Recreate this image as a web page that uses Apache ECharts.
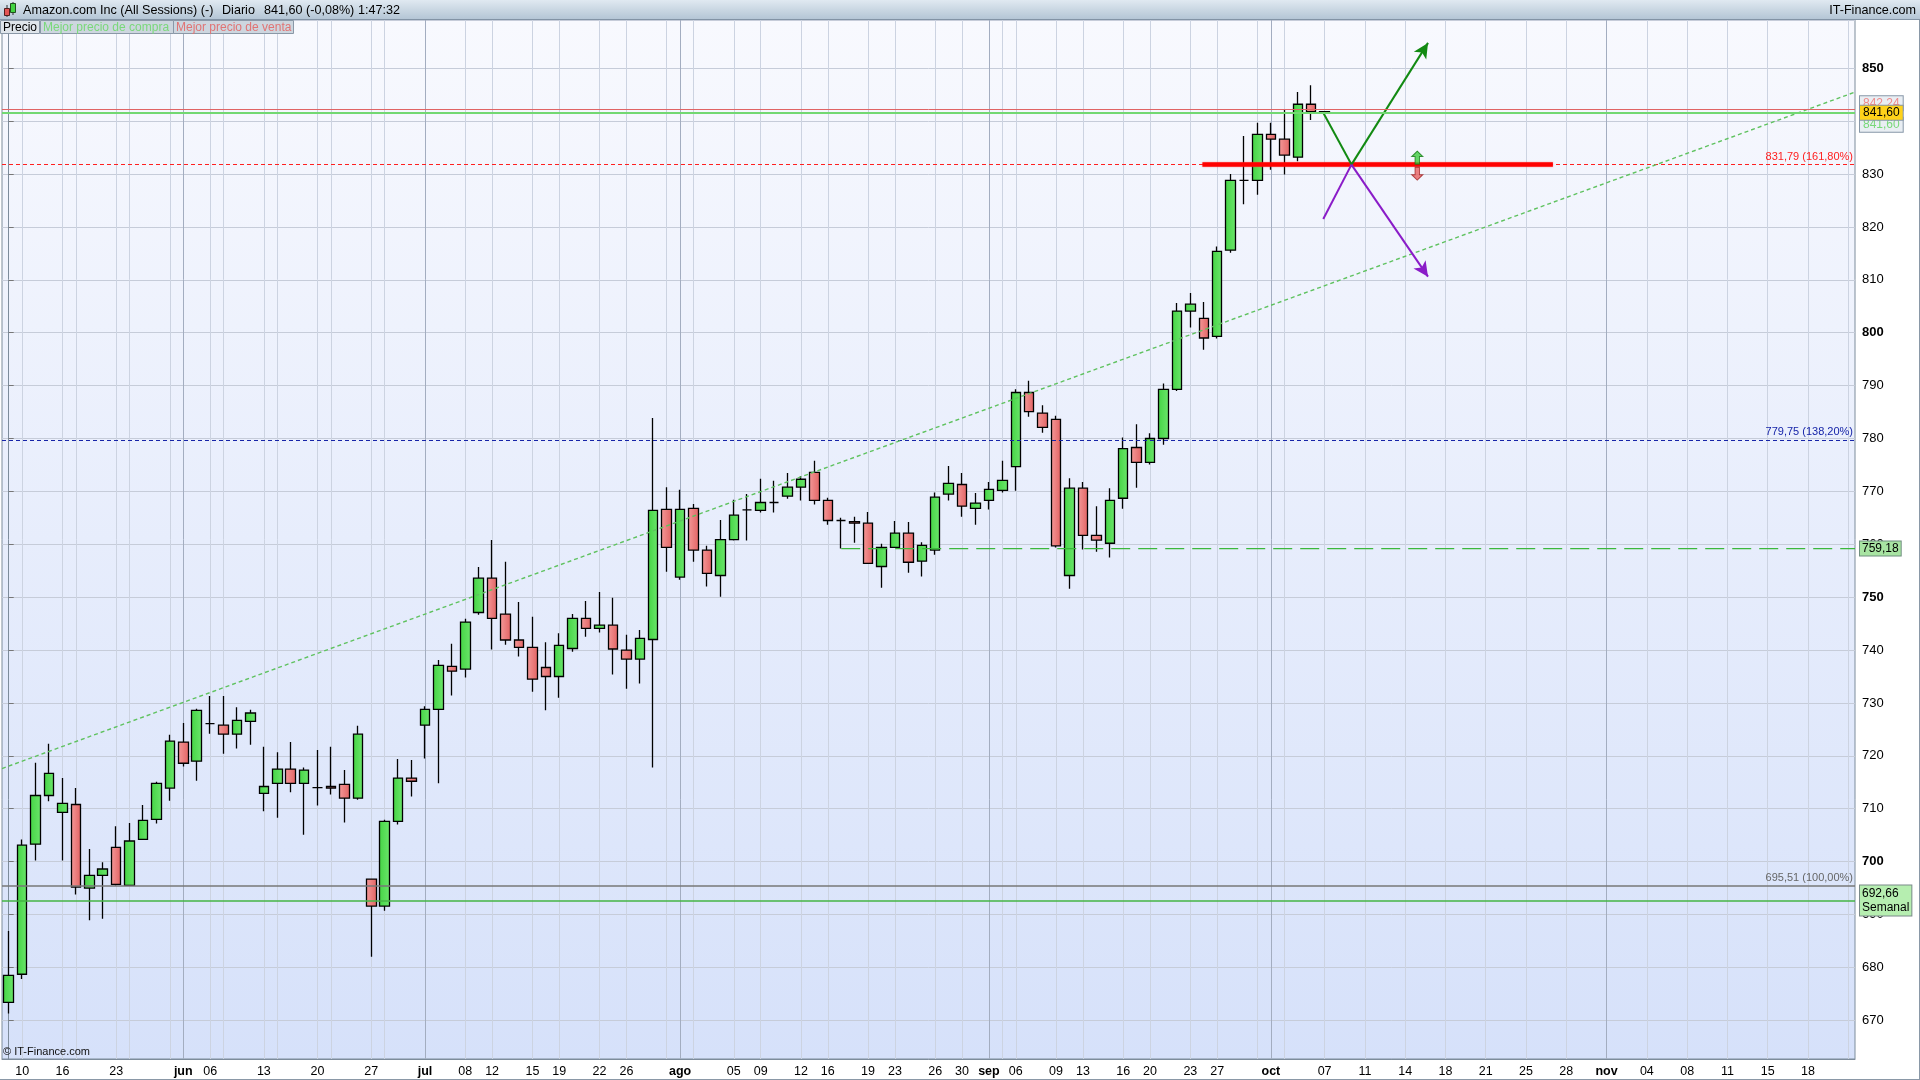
<!DOCTYPE html>
<html><head><meta charset="utf-8">
<script src="https://cdn.jsdelivr.net/npm/echarts@6/dist/echarts.min.js"></script>
<style>html,body{margin:0;padding:0;background:#fff}#c{width:1920px;height:1080px}</style>
</head><body><div id="c"></div>
<script>
// ---- categories (trading days shown on the chart, then future slots) ----
const dates = ['05-09','05-10','05-11','05-12','05-16','05-17','05-18','05-19','05-23','05-24',
 '05-25','05-26','05-31','06-01','06-02','06-06','06-07','06-08','06-09','06-13',
 '06-14','06-15','06-16','06-20','06-21','06-22','06-23','06-27','06-28','06-29',
 '06-30','07-05','07-06','07-07','07-08','07-11','07-12','07-13','07-14','07-15',
 '07-18','07-19','07-20','07-21','07-22','07-25','07-26','07-27','07-28','07-29',
 '08-01','08-02','08-03','08-04','08-05','08-08','08-09','08-10','08-11','08-12',
 '08-15','08-16','08-17','08-18','08-19','08-22','08-23','08-24','08-25','08-26',
 '08-29','08-30','08-31','09-01','09-02','09-06','09-07','09-08','09-09','09-12',
 '09-13','09-14','09-15','09-16','09-19','09-20','09-21','09-22','09-23','09-26',
 '09-27','09-28','09-29','09-30','10-03','10-04','10-05','10-06','10-07',
 '10-08','10-10','10-11','10-12','10-13','10-14','10-15','10-17','10-18','10-19','10-20','10-21',
 '10-22','10-24','10-25','10-26','10-27','10-28','10-29','10-31','11-01','11-02','11-03','11-04',
 '11-05','11-07','11-08','11-09','11-10','11-11','11-12','11-14','11-15','11-16','11-17','11-18',
 '11-19','11-21','11-22'];

const opens = [673.4,678.7,703.3,712.5,709.3,710.8,695.0,697.4,702.7,695.5,
 704.2,708.0,713.9,722.6,719.0,726.1,725.8,724.1,726.5,712.9,
 714.8,717.5,714.8,714.0,714.2,714.6,712.0,696.7,691.6,707.6,
 715.8,725.8,728.8,736.9,736.4,747.1,753.6,746.8,741.9,740.5,
 736.7,735.0,740.3,746.0,744.1,744.7,740.0,738.3,742.0,766.6,
 753.8,766.8,758.9,754.1,760.9,766.5,766.4,767.9,769.1,770.8,
 773.6,768.3,764.5,764.3,764.0,755.8,759.4,762.1,756.8,758.9,
 769.5,771.3,766.8,768.3,770.2,774.7,788.7,784.8,783.6,754.1,
 770.6,761.7,760.2,768.7,778.3,775.5,780.0,789.3,804.1,802.7,
 799.3,815.6,828.8,828.8,837.5,836.6,833.2,843.2,841.8];
const closes = [678.5,703.1,712.5,716.7,711.0,695.2,697.4,698.6,695.7,703.9,
 707.8,714.8,722.8,718.6,728.6,726.1,724.1,726.7,728.1,714.2,
 717.5,714.8,717.3,714.0,713.9,712.0,724.1,691.6,707.6,715.8,
 715.2,728.8,737.1,736.0,745.3,753.6,746.0,741.9,740.5,734.5,
 735.0,740.9,746.0,744.1,744.7,740.2,738.3,742.2,766.4,759.4,
 766.6,758.9,754.5,760.9,765.5,766.5,767.9,767.9,770.8,772.3,
 768.3,764.5,764.5,764.0,756.4,759.4,762.1,756.6,759.8,768.9,
 771.5,767.2,767.8,770.4,772.1,788.7,785.1,782.1,759.7,770.6,
 761.7,760.8,768.3,778.1,775.5,780.0,789.3,804.1,805.4,799.0,
 815.4,828.8,828.8,837.5,836.6,833.6,843.2,841.8,841.6];
const lows = [671.3,677.8,700.2,711.4,700.2,693.8,688.9,689.2,695.5,695.5,
 704.2,707.2,711.5,718.0,715.3,724.2,720.4,721.4,722.1,709.5,
 708.3,713.1,705.1,710.6,712.7,707.4,711.7,682.0,690.7,707.0,
 712.3,719.5,714.8,731.4,734.8,746.7,740.1,741.0,738.8,732.1,
 728.6,731.0,739.7,742.5,743.3,735.4,732.7,733.7,717.8,754.8,
 753.3,756.7,752.0,750.1,760.7,760.7,766.0,766.0,768.6,768.3,
 767.5,763.7,759.2,760.3,756.4,751.8,759.4,754.6,753.9,758.0,
 768.3,765.2,763.7,766.6,769.8,770.1,784.1,781.1,759.4,751.6,
 759.0,758.6,757.5,766.7,770.7,775.1,778.8,789.0,801.0,796.8,
 798.9,815.1,824.3,826.1,830.8,829.9,832.4,840.2,841.5];
const highs = [686.9,704.2,718.7,722.3,715.8,713.9,702.4,699.9,706.7,707.3,
 710.7,715.1,724.0,726.2,728.9,731.3,731.3,729.2,728.7,721.7,
 720.7,722.6,717.8,721.1,721.7,717.3,725.7,696.7,707.9,719.4,
 719.2,729.4,738.1,741.2,745.9,755.7,760.8,756.7,749.1,746.3,
 741.5,743.2,746.8,749.3,751.0,749.9,742.9,743.8,783.9,770.8,
 770.3,767.6,759.7,764.6,768.4,769.5,772.4,772.0,773.5,772.9,
 775.8,768.8,765.0,765.2,766.1,760.1,764.4,764.2,760.4,769.8,
 774.8,773.5,769.7,771.8,775.8,789.3,790.9,786.3,784.3,772.5,
 771.8,767.2,770.6,780.2,782.7,781.0,790.4,805.6,807.5,805.8,
 816.3,830.0,837.2,839.7,839.7,842.1,845.5,846.8,841.8];

// ---- axis ticks ----
const tickIdx = [1,4,5,8,9,12,13,15,16,19,20,23,24,27,28,31,34,36,39,41,44,46,49,50,51,54,56,59,61,64,66,69,71,73,74,75,78,80,83,85,88,90,93,94,95,98,101,104,107,110,113,116,119,122,125,128,131,134,137];
const labelIdx = [1,4,8,13,15,19,23,27,31,34,36,39,41,44,46,50,54,56,59,61,64,66,69,71,73,75,78,80,83,85,88,90,94,98,101,104,107,110,113,116,119,122,125,128,131,134];
const monthIdx = [13,31,50,73,94,119];
const monthNames = ['ene','feb','mar','abr','may','jun','jul','ago','sep','oct','nov','dic'];

// ---- drawn levels / annotations (price units, category index units) ----
const fibLevels = [831.79, 779.75, 695.51];
const fibTexts = ['831,79 (161,80%)', '779,75 (138,20%)', '695,51 (100,00%)'];
const weeklyLevel = 692.66;
const supportLine = [[62, 759.18], [137.5, 759.18]];
const trendLine = [[-0.5, 717.6], [137.5, 845.5]];
const targetBar = [[88.9, 831.79], [115, 831.79]];
const upPath = [[97.9, 841.6], [100, 831.79], [105.7, 854.8]];
const downPath = [[97.9, 821.5], [100, 831.79], [105.7, 810.6]];
const arrowMark = [[104.9, 831.79]];
const askPrice = 842.24, bidPrice = 841.60, lastPrice = 841.60;

const FONT = "'Liberation Sans', Arial, sans-serif";
const labelSet = new Set(labelIdx), monthSet = new Set(monthIdx);
function tickText(i) {
  const p = dates[i].split('-');
  return monthSet.has(i) ? monthNames[+p[0] - 1] : p[1];
}
const candles = opens.map((o, i) => [o, closes[i], lows[i], highs[i]]);
const fmt = v => v.toFixed(2).replace('.', ',');
const HIDDEN = {type: 'solid', width: 1, color: 'rgba(0,0,0,0)'};

const chart = echarts.init(document.getElementById('c'), null, {renderer: 'canvas'});
const hline = (v, style, label) => ({yAxis: v, lineStyle: style, label: label || {show: false}});

chart.setOption({
  animation: false,
  backgroundColor: '#ffffff',
  grid: {left: 2, right: 65, top: 20, bottom: 21, show: true, borderColor: '#7d8c9b', borderWidth: 1,
    backgroundColor: {type: 'linear', x: 0, y: 0, x2: 0, y2: 1, colorStops: [{offset: 0, color: '#f8f9fe'}, {offset: 1, color: '#d6e1fa'}]}},
  xAxis: [{
    type: 'category', data: dates, boundaryGap: true,
    axisLine: {lineStyle: {color: '#7d8c9b'}}, axisTick: {show: false}, splitLine: {show: false},
    axisLabel: {
      interval: (i) => labelSet.has(i), margin: 6,
      formatter: (v, i) => monthSet.has(i) ? '{m|' + tickText(i) + '}' : '{d|' + tickText(i) + '}',
      rich: {m: {fontFamily: FONT, fontSize: 12.5, fontWeight: 'bold', color: '#000'},
             d: {fontFamily: FONT, fontSize: 12.5, color: '#000'}}
    }
  }, {
    type: 'value', min: -0.5, max: 137.5, show: false
  }],
  yAxis: {
    type: 'value', position: 'right', min: 662.68, max: 859.13, minInterval: 10, maxInterval: 10,
    axisLine: {show: true, lineStyle: {color: '#7d8c9b'}},
    axisTick: {show: true, length: 5, lineStyle: {color: '#777'}},
    splitLine: {show: true, lineStyle: {color: '#c6ccd9', width: 1}},
    axisLabel: {
      margin: 7, showMinLabel: false, showMaxLabel: false,
      formatter: v => (Math.abs(v % 10) > 1e-6) ? '' : (v % 50 === 0 ? '{b|' + v + '}' : '{n|' + v + '}'),
      rich: {b: {fontFamily: FONT, fontSize: 13, fontWeight: 'bold', color: '#000'},
             n: {fontFamily: FONT, fontSize: 13, color: '#000'}}
    }
  },
  series: [
    { // vertical grid lines through candle centres (behind the candles)
      type: 'line', xAxisIndex: 1, data: [], z: 1, silent: true,
      markLine: {z: 1, silent: true, symbol: 'none', animation: false, label: {show: false},
        data: tickIdx.map(i => ({xAxis: i, lineStyle: {type: 'solid', width: 1, color: monthSet.has(i) ? '#a3adc0' : '#ccd3e1'}}))}
    },
    {
      type: 'candlestick', name: 'Precio', data: candles, z: 2, barWidth: 10,
      itemStyle: {
        color: {type: 'linear', x: 0, y: 0, x2: 1, y2: 0, colorStops: [{offset: 0, color: '#44d444'}, {offset: 1, color: '#6ce66c'}]},
        color0: {type: 'linear', x: 0, y: 0, x2: 1, y2: 0, colorStops: [{offset: 0, color: '#f49a9a'}, {offset: 1, color: '#e26262'}]},
        borderColor: '#000', borderColor0: '#000', borderColorDoji: '#000', borderWidth: 1.3
      }
    },
    { // fibonacci levels + weekly level
      type: 'line', xAxisIndex: 1, data: [], z: 4, silent: true,
      markLine: {z: 4, silent: true, symbol: 'none', animation: false,
        data: [
          hline(fibLevels[0], {type: [4, 3], width: 1, color: '#ff2020'}, {show: true, position: 'insideEndTop', formatter: fibTexts[0], color: '#ff2020', fontFamily: FONT, fontSize: 11, distance: 2}),
          hline(fibLevels[1], {type: [4, 3], width: 1.2, color: '#1624a8'}, {show: true, position: 'insideEndTop', formatter: fibTexts[1], color: '#1624a8', fontFamily: FONT, fontSize: 11, distance: 2}),
          hline(fibLevels[2], {type: 'solid', width: 1.5, color: '#777777'}, {show: true, position: 'insideEndTop', formatter: fibTexts[2], color: '#666666', fontFamily: FONT, fontSize: 11, distance: 2}),
          hline(weeklyLevel, {type: 'solid', width: 1.5, color: '#44b444'}, {show: true, position: 'end', formatter: fmt(weeklyLevel) + '\nSemanal', color: '#000', fontFamily: FONT, fontSize: 12, lineHeight: 14, backgroundColor: '#b6eeb0', borderColor: '#7a8a8a', borderWidth: 1, padding: [1, 2], distance: 5})
        ]}
    },
    { type: 'line', xAxisIndex: 1, data: trendLine, z: 4, symbol: 'none', silent: true,
      lineStyle: {color: '#5fc25f', width: 1.4, type: [4, 3]} },
    { type: 'line', xAxisIndex: 1, data: supportLine, z: 4, symbol: 'none', silent: true,
      lineStyle: {color: '#3cb83c', width: 1.2, type: [19, 8]},
      markLine: {z: 6, silent: true, symbol: 'none', animation: false,
        data: [hline(supportLine[0][1], HIDDEN, {show: true, position: 'end', formatter: fmt(supportLine[0][1]), color: '#000', fontFamily: FONT, fontSize: 12, backgroundColor: '#a8e4a2', borderColor: '#6f8f7f', borderWidth: 1, padding: [1, 2], distance: 5})]} },
    { type: 'line', xAxisIndex: 1, data: targetBar, z: 5, symbol: 'none', silent: true,
      lineStyle: {color: '#ff0000', width: 4.5, shadowColor: 'rgba(255,80,80,0.6)', shadowBlur: 2} },
    { // green path with arrow
      type: 'line', xAxisIndex: 1, data: [], z: 6, silent: true,
      markLine: {z: 6, silent: true, animation: false, label: {show: false}, lineStyle: {color: '#128a12', width: 2, type: 'solid'},
        data: [
          [{coord: upPath[0], symbol: 'none'}, {coord: upPath[1], symbol: 'none'}],
          [{coord: upPath[1], symbol: 'none'}, {coord: upPath[2], symbol: 'arrow', symbolSize: [11, 15]}]
        ]}
    },
    { // purple path with arrow
      type: 'line', xAxisIndex: 1, data: [], z: 6, silent: true,
      markLine: {z: 6, silent: true, animation: false, label: {show: false}, lineStyle: {color: '#8a1cc8', width: 2, type: 'solid'},
        data: [
          [{coord: downPath[0], symbol: 'none'}, {coord: downPath[1], symbol: 'none'}],
          [{coord: downPath[1], symbol: 'none'}, {coord: downPath[2], symbol: 'arrow', symbolSize: [11, 15]}]
        ]}
    },
    { type: 'scatter', xAxisIndex: 1, data: arrowMark, z: 6, silent: true,
      symbol: 'path://M5,0L10,5L7,5L7,12L3,12L3,5L0,5Z', symbolSize: [11, 13], symbolOffset: [0, -7],
      itemStyle: {color: '#3fcc3f', borderColor: '#137a13', borderWidth: 1} },
    { type: 'scatter', xAxisIndex: 1, data: arrowMark, z: 6, silent: true,
      symbol: 'path://M3,0L7,0L7,7L10,7L5,12L0,7L3,7Z', symbolSize: [11, 13], symbolOffset: [0, 9],
      itemStyle: {color: '#e86262', borderColor: '#a02020', borderWidth: 1} },
    { // ask / bid lines
      type: 'line', xAxisIndex: 1, data: [], z: 7, silent: true,
      markLine: {z: 7, silent: true, symbol: 'none', animation: false,
        data: [
          hline(askPrice, {type: 'solid', width: 1, color: '#e06464'}, {show: true, position: 'end', formatter: fmt(askPrice), color: '#ee8a8a', fontFamily: FONT, fontSize: 12, backgroundColor: '#e9eef3', borderColor: '#8797a8', borderWidth: 1, padding: [1, 3], offset: [0, -6], distance: 5}),
          hline(bidPrice, {type: 'solid', width: 2, color: '#72d872'}, {show: true, position: 'end', formatter: fmt(bidPrice), color: '#78d878', fontFamily: FONT, fontSize: 12, backgroundColor: '#e9eef3', borderColor: '#8797a8', borderWidth: 1, padding: [1, 3], offset: [0, 12], distance: 5})
        ]}
    },
    { // last price label
      type: 'line', xAxisIndex: 1, data: [], z: 8, silent: true,
      markLine: {z: 8, silent: true, symbol: 'none', animation: false,
        data: [hline(lastPrice, HIDDEN, {show: true, position: 'end', formatter: fmt(lastPrice), color: '#000', fontFamily: FONT, fontSize: 12, backgroundColor: '#ffd21a', borderColor: '#8797a8', borderWidth: 1, padding: [1, 3], distance: 5})]}
    }
  ],
  graphic: {elements: [
    {type: 'rect', z: 100, shape: {x: 0, y: 0, width: 1920, height: 20},
      style: {fill: {type: 'linear', x: 0, y: 0, x2: 0, y2: 1, colorStops: [{offset: 0, color: '#e0e9f1'}, {offset: 1, color: '#b2c4d4'}]}}},
    {type: 'line', z: 101, shape: {x1: 0, y1: 19.5, x2: 1920, y2: 19.5}, style: {stroke: '#8293a5', lineWidth: 1}},
    {type: 'line', z: 101, shape: {x1: 7, y1: 5, x2: 7, y2: 17}, style: {stroke: '#333', lineWidth: 1}},
    {type: 'rect', z: 102, shape: {x: 4.5, y: 8.5, width: 5, height: 7}, style: {fill: '#e35555', stroke: '#502020', lineWidth: 1}},
    {type: 'line', z: 101, shape: {x1: 13, y1: 2, x2: 13, y2: 15}, style: {stroke: '#333', lineWidth: 1}},
    {type: 'rect', z: 102, shape: {x: 10.5, y: 3.5, width: 5, height: 9}, style: {fill: '#42d442', stroke: '#1f4f1f', lineWidth: 1}},
    {type: 'text', z: 102, style: {x: 23, y: 10.5, text: 'Amazon.com Inc (All Sessions) (-)', font: '12.6px ' + FONT, fill: '#000', verticalAlign: 'middle'}},
    {type: 'text', z: 102, style: {x: 222, y: 10.5, text: 'Diario', font: '12.6px ' + FONT, fill: '#000', verticalAlign: 'middle'}},
    {type: 'text', z: 102, style: {x: 264, y: 10.5, text: '841,60 (-0,08%)', font: '12.6px ' + FONT, fill: '#000', verticalAlign: 'middle'}},
    {type: 'text', z: 102, style: {x: 358, y: 10.5, text: '1:47:32', font: '12.6px ' + FONT, fill: '#000', verticalAlign: 'middle'}},
    {type: 'text', z: 102, style: {x: 1916, y: 10.5, text: 'IT-Finance.com', font: '12.6px ' + FONT, fill: '#000', align: 'right', verticalAlign: 'middle'}},
    {type: 'rect', z: 102, shape: {x: 0.5, y: 20.5, width: 39, height: 13}, style: {fill: '#dfe5eb', stroke: '#8a98a7', lineWidth: 1}},
    {type: 'text', z: 103, style: {x: 3, y: 27.5, text: 'Precio', font: '12px ' + FONT, fill: '#000', verticalAlign: 'middle'}},
    {type: 'rect', z: 102, shape: {x: 40.5, y: 20.5, width: 133, height: 13}, style: {fill: '#cdd6df', stroke: '#8a98a7', lineWidth: 1}},
    {type: 'text', z: 103, style: {x: 43, y: 27.5, text: 'Mejor precio de compra', font: '12px ' + FONT, fill: '#7ad87a', verticalAlign: 'middle'}},
    {type: 'rect', z: 102, shape: {x: 173.5, y: 20.5, width: 120, height: 13}, style: {fill: '#cdd6df', stroke: '#8a98a7', lineWidth: 1}},
    {type: 'text', z: 103, style: {x: 176, y: 27.5, text: 'Mejor precio de venta', font: '12px ' + FONT, fill: '#e07474', verticalAlign: 'middle'}},
    {type: 'text', z: 102, style: {x: 3, y: 1052, text: '\u00a9 IT-Finance.com', font: '11px ' + FONT, fill: '#111', verticalAlign: 'middle'}},
    {type: 'line', z: 102, shape: {x1: 1919.5, y1: 20, x2: 1919.5, y2: 1080}, style: {stroke: '#8a98a7', lineWidth: 1}},
    {type: 'line', z: 102, shape: {x1: 0, y1: 1079.5, x2: 1920, y2: 1079.5}, style: {stroke: '#8a98a7', lineWidth: 1}}
  ]}
});
</script></body></html>
